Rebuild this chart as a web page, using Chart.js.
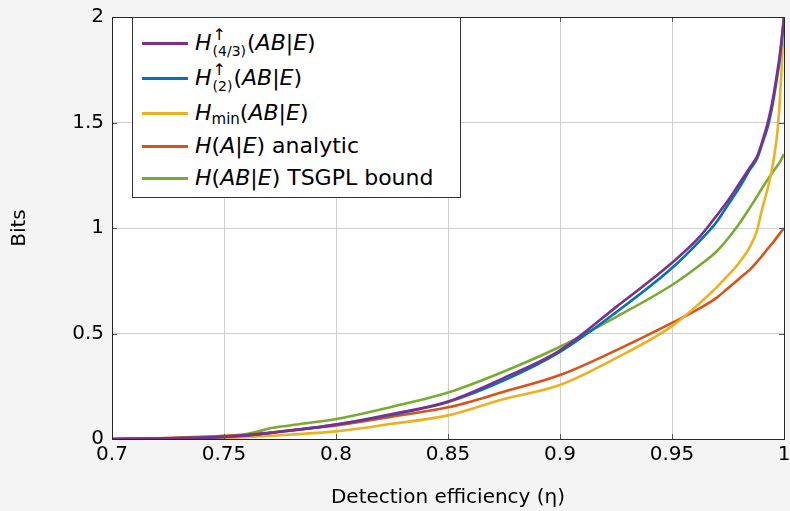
<!DOCTYPE html>
<html>
<head>
<meta charset="utf-8">
<script src="https://cdn.jsdelivr.net/npm/chart.js@4.4.1/dist/chart.umd.min.js"></script>
<style>
  html, body { margin:0; padding:0; background:#f4f4f4; }
  #wrap { position:relative; width:790px; height:511px; }
  canvas { position:absolute; left:0; top:0; }
  #legend { position:absolute; left:132px; top:17px; width:329px; height:181px; background:#fff;
            border:1px solid #333; box-sizing:border-box; font-family:"DejaVu Sans", sans-serif; font-size:22px; color:#000; }
  .row { position:absolute; left:0; height:34px; width:100%; }
  .sw { position:absolute; left:9px; width:46px; height:3px; }
  .tx { position:absolute; left:62px; top:0; line-height:34px; white-space:nowrap; }
  .tx i { font-style:italic; }
  .ss { display:inline-block; vertical-align:-6px; margin-left:1px; margin-right:1px; }
  .ss .up { display:block; font-size:16px; line-height:17px; }
  .ss .dn { display:block; font-size:14px; line-height:17px; }
  .sub { font-size:15px; vertical-align:-4px; }
</style>
</head>
<body>
<div id="wrap">
<canvas id="c" width="790" height="511"></canvas>
<div id="legend"></div>
</div>
<script>
// ----- data -----
const etaValues   = [0.7, 0.72, 0.74, 0.75, 0.76, 0.765, 0.77, 0.78, 0.8, 0.825, 0.85, 0.875, 0.9, 0.925, 0.95, 0.9625, 0.97, 0.975, 0.98, 0.985, 0.988, 0.99, 0.993, 0.995, 0.997, 0.998, 0.999, 1.0];
const h43Values   = [0, 0.002, 0.006, 0.01, 0.017, 0.022, 0.028, 0.04, 0.068, 0.118, 0.178, 0.29, 0.42, 0.625, 0.835, 0.96, 1.06, 1.13, 1.21, 1.29, 1.34, 1.40, 1.51, 1.61, 1.74, 1.81, 1.90, 2.0];
const h2Values    = [0, 0.002, 0.006, 0.01, 0.017, 0.022, 0.028, 0.04, 0.068, 0.115, 0.175, 0.278, 0.413, 0.60, 0.81, 0.94, 1.03, 1.11, 1.19, 1.28, 1.33, 1.39, 1.49, 1.59, 1.72, 1.79, 1.89, 2.0];
const hminValues  = [0, 0.001, 0.003, 0.005, 0.009, 0.012, 0.015, 0.021, 0.036, 0.072, 0.112, 0.19, 0.256, 0.383, 0.535, 0.645, 0.72, 0.775, 0.835, 0.915, 0.99, 1.08, 1.20, 1.30, 1.45, 1.58, 1.77, 2.0];
const hAEValues   = [0, 0.003, 0.01, 0.015, 0.02, 0.025, 0.03, 0.042, 0.064, 0.106, 0.15, 0.224, 0.303, 0.42, 0.55, 0.62, 0.67, 0.715, 0.76, 0.805, 0.84, 0.865, 0.905, 0.93, 0.958, 0.972, 0.986, 1.0];
const tsgplValues = [0, 0.002, 0.008, 0.014, 0.024, 0.035, 0.05, 0.065, 0.095, 0.153, 0.22, 0.32, 0.437, 0.578, 0.73, 0.825, 0.89, 0.95, 1.02, 1.10, 1.15, 1.185, 1.235, 1.265, 1.295, 1.31, 1.33, 1.35];
const xTickValues = [0.7, 0.75, 0.8, 0.85, 0.9, 0.95, 1];
const yTickValues = [0, 0.5, 1, 1.5, 2];
const seriesNames = ['H(4/3)(AB|E)', 'H(2)(AB|E)', 'Hmin(AB|E)', 'H(A|E) analytic', 'H(AB|E) TSGPL bound'];
const seriesColors = ['#7E2F8E', '#0072BD', '#EDB120', '#D95319', '#77AC30'];
const seriesHTML = [
  '<i>H</i><span class="ss"><span class="up">↑</span><span class="dn">(4/3)</span></span>(<i>AB</i>|<i>E</i>)',
  '<i>H</i><span class="ss"><span class="up">↑</span><span class="dn">(2)</span></span>(<i>AB</i>|<i>E</i>)',
  '<i>H</i><span class="sub">min</span>(<i>AB</i>|<i>E</i>)',
  '<i>H</i>(<i>A</i>|<i>E</i>) analytic',
  '<i>H</i>(<i>AB</i>|<i>E</i>) TSGPL bound'
];
const allSeries = [h43Values, h2Values, hminValues, hAEValues, tsgplValues];

const FONT = "'DejaVu Sans', sans-serif";

const frame = {
  id: 'frame',
  beforeDraw(chart) {
    const {ctx, chartArea: a} = chart;
    ctx.save();
    ctx.fillStyle = '#ffffff';
    ctx.fillRect(a.left, a.top, a.right - a.left, a.bottom - a.top);
    ctx.restore();
  },
  afterDatasetsDraw(chart) {
    const {ctx, chartArea: a, scales} = chart;
    ctx.save();
    ctx.strokeStyle = '#555';
    ctx.lineWidth = 1;
    const L = 5;
    scales.x.ticks.forEach(t => {
      const px = Math.round(scales.x.getPixelForValue(t.value)) + 0.5;
      ctx.beginPath();
      ctx.moveTo(px, a.bottom); ctx.lineTo(px, a.bottom - L);
      ctx.moveTo(px, a.top); ctx.lineTo(px, a.top + L);
      ctx.stroke();
    });
    scales.y.ticks.forEach(t => {
      const py = Math.round(scales.y.getPixelForValue(t.value)) + 0.5;
      ctx.beginPath();
      ctx.moveTo(a.left, py); ctx.lineTo(a.left + L, py);
      ctx.moveTo(a.right, py); ctx.lineTo(a.right - L, py);
      ctx.stroke();
    });
    ctx.strokeStyle = '#262626';
    ctx.strokeRect(Math.round(a.left) + 0.5, Math.round(a.top) + 0.5, Math.round(a.right - a.left), Math.round(a.bottom - a.top));
    ctx.restore();
  }
};

const datasets = allSeries.map((vals, i) => ({
  label: seriesNames[i],
  data: etaValues.map((x, k) => ({x: x, y: vals[k]})),
  borderColor: seriesColors[i],
  backgroundColor: seriesColors[i],
  borderWidth: 2.6,
  pointRadius: 0,
  fill: false,
  cubicInterpolationMode: 'monotone'
}));

new Chart(document.getElementById('c'), {
  type: 'line',
  data: { datasets: datasets },
  plugins: [frame],
  options: {
    responsive: false,
    animation: false,
    devicePixelRatio: 1,
    layout: { padding: { top: 17, right: 6, left: 0, bottom: 0 } },
    plugins: { legend: { display: false }, tooltip: { enabled: false } },
    scales: {
      x: {
        type: 'linear', min: 0.7, max: 1,
        afterFit(s) { s.height = 72; s.paddingRight = 0; s.paddingLeft = 0; },
        afterBuildTicks(s) { s.ticks = xTickValues.map(v => ({value: v})); },
        ticks: { color: '#000', font: { family: FONT, size: 20 }, padding: 4,
                 callback: v => String(+v.toFixed(2)), maxRotation: 0, autoSkip: false },
        grid: { color: '#cfcfcf', lineWidth: 1, drawTicks: false },
        border: { display: false },
        title: { display: true, text: 'Detection efficiency (η)', color: '#000',
                 font: { family: FONT, size: 20 }, padding: { top: 0, bottom: 1 } }
      },
      y: {
        min: 0, max: 2,
        afterFit(s) { s.width = 112; s.paddingTop = 0; s.paddingBottom = 0; },
        afterBuildTicks(s) { s.ticks = yTickValues.map(v => ({value: v})); },
        ticks: { color: '#000', font: { family: FONT, size: 20 }, padding: 8,
                 callback: v => String(+v.toFixed(2)) },
        grid: { color: '#cfcfcf', lineWidth: 1, drawTicks: false },
        border: { display: false },
        title: { display: true, text: 'Bits', color: '#000',
                 font: { family: FONT, size: 20 }, padding: { top: 8, bottom: 0 } }
      }
    }
  }
});

// HTML legend (real text with sub/superscripts)
const lg = document.getElementById('legend');
const rowCenters = [25, 60, 95, 128, 160];
seriesHTML.forEach((h, i) => {
  const r = document.createElement('div');
  r.className = 'row';
  r.style.top = (rowCenters[i] - 17) + 'px';
  r.innerHTML = '<div class="sw" style="top:16px;background:' + seriesColors[i] + '"></div><div class="tx">' + h + '</div>';
  lg.appendChild(r);
});
</script>
</body>
</html>
